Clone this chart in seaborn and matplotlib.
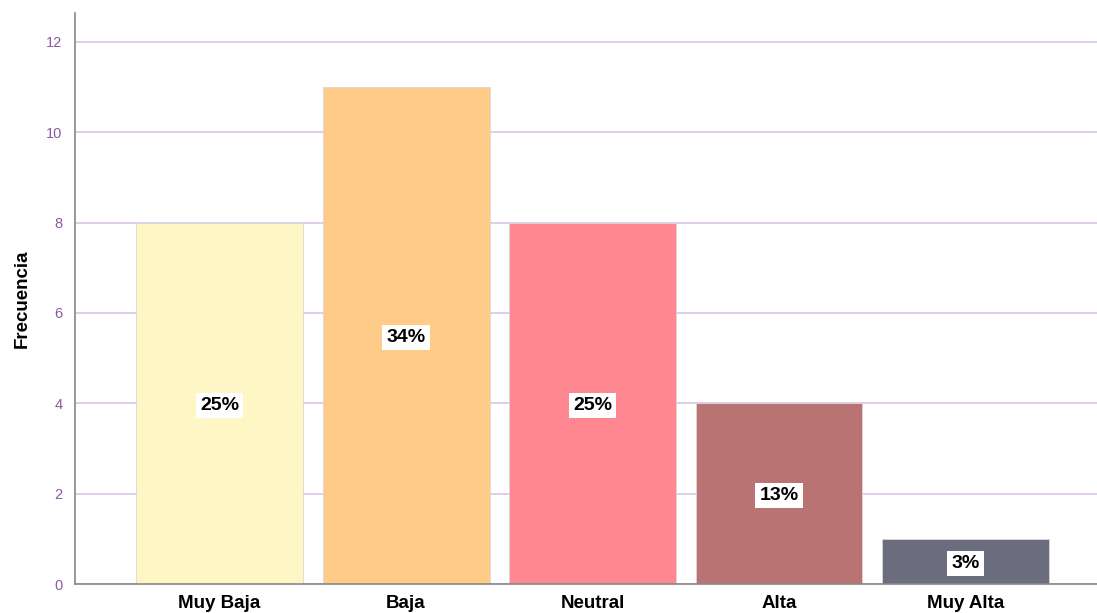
import pandas as pd
import matplotlib
matplotlib.use("Agg")
import matplotlib.pyplot as plt
import seaborn as sns

# datos
categorias = ["Muy Baja", "Baja", "Neutral", "Alta", "Muy Alta"]
frecuencias = [8, 11, 8, 4, 1]
porcentajes = ["25%", "34%", "25%", "13%", "3%"]
colores = ["#FFF6C5", "#FFCB88", "#FF8791", "#BA7373", "#6B6C7E"]

df = pd.DataFrame({"categoria": categorias, "frecuencia": frecuencias})

sns.set_style("white")
plt.rcParams["font.family"] = ["Liberation Sans", "DejaVu Sans"]

fig = plt.figure(figsize=(10.97, 6.13), dpi=100)
ax = fig.add_axes([0.0684, 0.0473, 0.9316, 0.9317])

sns.barplot(data=df, x="categoria", y="frecuencia", hue="categoria",
            palette=colores, saturation=1, width=0.895, legend=False,
            edgecolor="#D8D8D8", linewidth=0.6, ax=ax, zorder=2)

# etiquetas de porcentaje en el centro de cada barra
for i, (f, p) in enumerate(zip(frecuencias, porcentajes)):
    ax.text(i, f / 2, p, ha="center", va="center_baseline", fontsize=14,
            fontweight="bold", color="black", zorder=3,
            bbox=dict(facecolor="white", edgecolor="none", pad=3.0))

ax.set_ylim(0, 12.64)
ax.set_xlim(-0.775, 4.705)
ax.set_yticks([0, 2, 4, 6, 8, 10, 12])
ax.yaxis.grid(True, color="#D9C3E8", linewidth=1.2, zorder=0)
ax.set_axisbelow(True)

ax.set_xlabel("")
ax.set_ylabel("Frecuencia", fontsize=13.5, fontweight="bold", labelpad=11,
              color="black")
ax.tick_params(axis="y", colors="#8A5A9E", labelsize=10.5, length=0, pad=9)
ax.tick_params(axis="x", labelsize=13.5, length=0, pad=8)
for lab in ax.get_xticklabels():
    lab.set_fontweight("bold")
    lab.set_color("black")

for s in ["top", "right"]:
    ax.spines[s].set_visible(False)
ax.spines["left"].set_color("#888888")
ax.spines["bottom"].set_color("#888888")
ax.spines["left"].set_linewidth(1.2)
ax.spines["bottom"].set_linewidth(1.2)

fig.savefig("out.png", dpi=100)
